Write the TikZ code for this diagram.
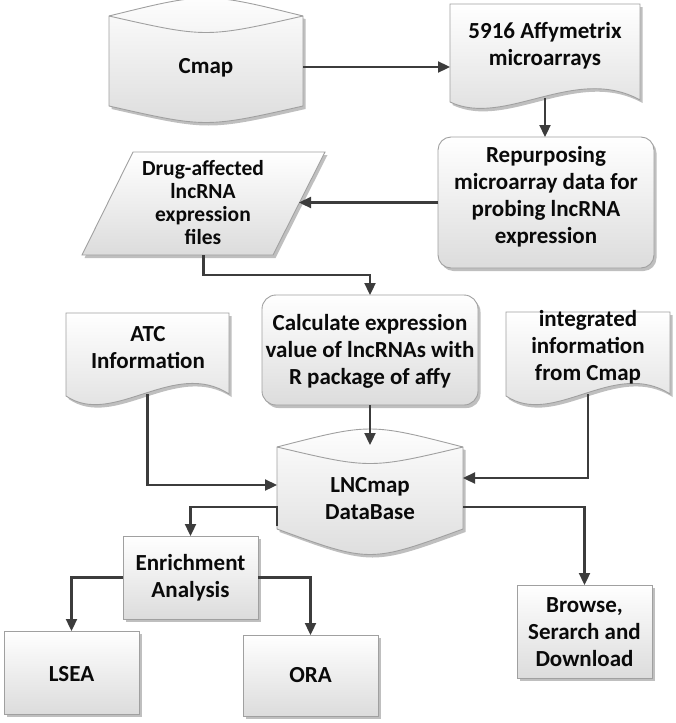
\documentclass[tikz,border=0pt]{standalone}
\usepackage{fontspec}
\setmainfont{Carlito}
\usetikzlibrary{arrows.meta,calc,shadows}
\definecolor{lineC}{HTML}{3C3C3C}
\definecolor{edgeC}{HTML}{A0A0A0}
\definecolor{txtC}{HTML}{0A0A0A}
\definecolor{botC}{HTML}{DCDCDC}
\begin{document}
\begin{tikzpicture}[x=1pt,y=-1pt,
  box/.style={draw=edgeC, line width=0.9pt, top color=white, bottom color=botC,
    drop shadow={shadow xshift=2.5pt, shadow yshift=-3pt, opacity=0.25, fill=black}},
  lid/.style={draw=edgeC, line width=0.9pt},
  frame/.style={draw=none, inner sep=0pt, outer sep=0pt},
  lbl/.style={text=txtC, font=\fontsize{23}{27}\selectfont\bfseries, align=center, inner sep=0pt},
  lblsmall/.style={text=txtC, font=\fontsize{21.5}{23}\selectfont\bfseries, align=center, inner sep=0pt},
  arr/.style={draw=lineC, line width=2.3pt, -{Triangle[length=12pt,width=11pt]}}]
\useasboundingbox (0,0) rectangle (675,723);

% ---- shape frames (invisible, give anchors) ----
\node[frame, minimum width=194pt, minimum height=113pt] (cmap) at (206,60.5) {};
\node[frame, minimum width=190pt, minimum height=98pt] (affy) at (545,53) {};
\node[frame, minimum width=243pt, minimum height=103pt] (drug) at (203.5,203.5) {};
\node[frame, minimum width=163pt, minimum height=81pt] (atc) at (147.5,353.5) {};
\node[frame, minimum width=164pt, minimum height=82pt] (integ) at (588,353) {};
\node[frame, minimum width=186pt, minimum height=111pt] (lnc) at (370,490.5) {};

% ---- Cmap cylinder ----
\path[box] (109,16) .. controls (206,-8) .. (303,16) -- (303,106)
  .. controls (206,128) .. (109,106) -- cycle;
\draw[lid] (109,16) .. controls (206,38) .. (303,16);
\node[lbl] (cmapT) at (206,68) {Cmap};

% ---- 5916 Affymetrix document ----
\path[box] (450,4) -- (640,4) -- (640,100) .. controls (575,64) and (505,128) .. (450,102) -- cycle;
\node[lbl] (affyT) at (545,46) {5916 Affymetrix\\microarrays};

% ---- Repurposing ----
\node[box, frame, draw=edgeC, rounded corners=13pt, minimum width=216pt, minimum height=131pt] (repurp) at (546,202.5) {};
\node[lbl] (repurpT) at (546,197) {Repurposing\\microarray data for\\probing lncRNA\\expression};

% ---- Drug-affected parallelogram ----
\path[box] (133,152) -- (325,152) -- (273,255) -- (82,255) -- cycle;
\node[lblsmall] (drugT) at (203,203) {Drug-affected\\lncRNA\\expression\\files};

% ---- Calculate ----
\node[box, frame, draw=edgeC, rounded corners=14pt, minimum width=216pt, minimum height=110pt] (calc) at (370,350) {};
\node[lbl] (calcT) at (370,351) {Calculate expression\\value of lncRNAs with\\R package of affy};

% ---- ATC document ----
\path[box] (66,313) -- (229,313) -- (229,394) .. controls (174,358) and (113,428) .. (66,396) -- cycle;
\node[lbl] (atcT) at (148,348) {ATC\\Information};

% ---- integrated document ----
\path[box] (506,312) -- (670,312) -- (670,394) .. controls (614,358) and (554,428) .. (506,396) -- cycle;
\node[lbl] (integT) at (588,347) {integrated\\information\\from Cmap};

% ---- LNCmap cylinder ----
\path[box] (277,447) .. controls (370,423) .. (463,447) -- (463,529)
  .. controls (370,563) .. (277,529) -- cycle;
\draw[lid] (277,447) .. controls (370,469) .. (463,447);
\node[lbl] (lncT) at (370,499) {LNCmap\\DataBase};

% ---- lower boxes ----
\node[box, frame, draw=edgeC, minimum width=135pt, minimum height=83pt] (enrich) at (190.5,577.5) {};
\node[lbl] (enrichT) at (190.5,578) {Enrichment\\Analysis};
\node[box, frame, draw=edgeC, minimum width=135pt, minimum height=83pt] (lsea) at (71.5,672.5) {};
\node[lbl] (lseaT) at (71.5,674) {LSEA};
\node[box, frame, draw=edgeC, minimum width=135pt, minimum height=81pt] (ora) at (310.5,675.5) {};
\node[lbl] (oraT) at (310.5,675.5) {ORA};
\node[box, frame, draw=edgeC, minimum width=135pt, minimum height=93pt] (browse) at (584.5,631.5) {};
\node[lbl] (browseT) at (584.5,632) {Browse,\\Serarch and\\Download};

% ---- connectors ----
\coordinate (drugR) at ($(drug.east)+(-26,0)$);
\draw[arr] ($(cmap.east)+(0,6.5)$) -- ($(affy.west)+(0,14)$);
\draw[arr] ($(affy.south)+(0,-4)$) -- (affy.south |- repurp.north);
\draw[arr] (repurp.west) -- (repurp.west -| drugR);
\draw[arr] (drug.south) -- ++(0,20) -| (calc.north);
\draw[arr] (calc.south) -- ($(lnc.north)+(0,10)$);
\draw[arr] (atc.south) |- ($(lnc.west)+(0,-5.5)$);
\draw[arr] (integ.south) |- ($(lnc.east)+(0,-12.5)$);
\draw[arr] ($(lnc.west)+(0,35.5)$) -- ($(lnc.west)+(0,16.5)$) -| (enrich.north);
\draw[arr] ($(lnc.east)+(0,16.5)$) -| (browse.north);
\draw[arr] (enrich.west) -| (lsea.north);
\draw[arr] (enrich.east) -| (ora.north);
\end{tikzpicture}
\end{document}
